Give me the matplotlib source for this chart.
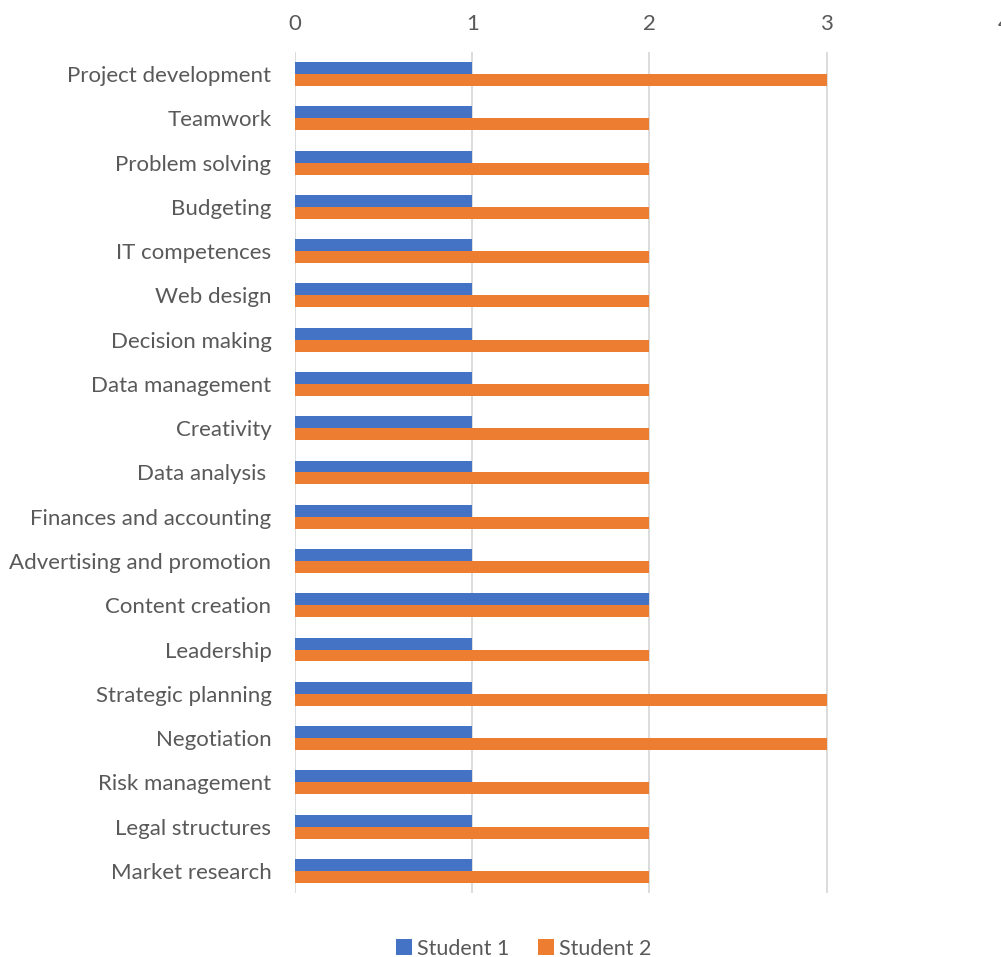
import matplotlib
matplotlib.use("Agg")
import matplotlib.pyplot as plt
import numpy as np

skills = ["Project development", "Teamwork", "Problem solving", "Budgeting",
          "IT competences", "Web design", "Decision making", "Data management",
          "Creativity", "Data analysis ", "Finances and accounting",
          "Advertising and promotion", "Content creation", "Leadership",
          "Strategic planning", "Negotiation", "Risk management",
          "Legal structures", "Market research"]
student1 = [1, 1, 1, 1, 1, 1, 1, 1, 1, 1, 1, 1, 2, 1, 1, 1, 1, 1, 1]
student2 = [3, 2, 2, 2, 2, 2, 2, 2, 2, 2, 2, 2, 2, 2, 3, 3, 2, 2, 2]
ticks = [0, 1, 2, 3, 4]

plt.rcParams["font.family"] = ["Lato", "DejaVu Sans"]
txt = "#595959"

fig = plt.figure(figsize=(10.01, 9.57), dpi=100)
ax = fig.add_axes([0.2947, 0.0669, 0.7083, 0.8788])

y = np.arange(len(skills))
h = 0.27
ax.barh(y - h / 2, student1, height=h, color="#4472C4", label="Student 1", zorder=3)
ax.barh(y + h / 2, student2, height=h, color="#ED7D31", label="Student 2", zorder=3)

ax.set_ylim(len(skills) - 0.5, -0.5)
ax.set_xlim(0, 4)
ax.set_yticks(y)
ax.set_yticklabels(skills, fontsize=16, color=txt)
ax.set_xticks(ticks)
ax.set_xticklabels([str(t) for t in ticks], fontsize=16, color=txt)
ax.xaxis.tick_top()
ax.tick_params(axis="both", length=0)
ax.tick_params(axis="x", pad=13)
ax.tick_params(axis="y", pad=17)
ax.grid(axis="x", color="#D9D9D9", linewidth=1.3, zorder=0)
for s in ax.spines.values():
    s.set_visible(False)

fig.legend(loc="lower center", bbox_to_anchor=(0.523, -0.022), ncol=2, frameon=False,
           fontsize=15.5, labelcolor=txt, handlelength=0.75, handleheight=0.75,
           handletextpad=0.25, columnspacing=1.3)

fig.savefig("out.png", dpi=100)
